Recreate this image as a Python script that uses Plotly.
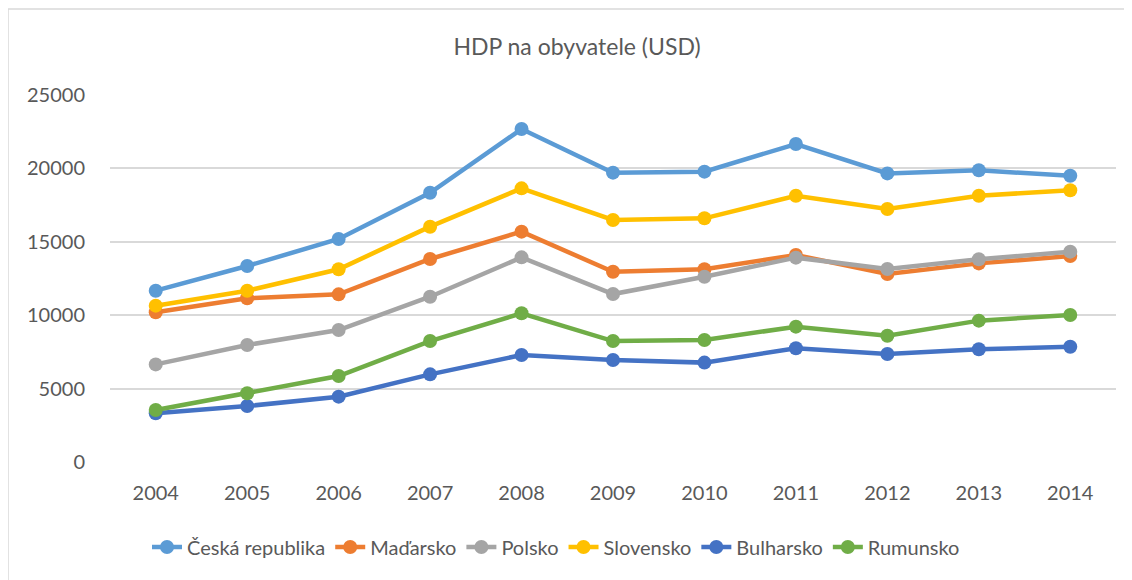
import plotly.graph_objects as go

years = ["2004", "2005", "2006", "2007", "2008", "2009", "2010", "2011", "2012", "2013", "2014"]
ceska = [11670, 13350, 15190, 18340, 22680, 19710, 19780, 21660, 19660, 19870, 19500]
madarsko = [10200, 11150, 11420, 13830, 15690, 12960, 13130, 14100, 12810, 13530, 14030]
polsko = [6650, 7970, 8990, 11260, 13940, 11440, 12620, 13920, 13150, 13810, 14330]
slovensko = [10650, 11670, 13130, 16030, 18640, 16490, 16600, 18140, 17230, 18140, 18510]
bulharsko = [3320, 3810, 4450, 5970, 7290, 6950, 6770, 7750, 7360, 7680, 7850]
rumunsko = [3540, 4680, 5860, 8240, 10130, 8240, 8310, 9220, 8600, 9630, 10010]
y_ticks = [0, 5000, 10000, 15000, 20000, 25000]
y_labels = [str(v) for v in y_ticks]

series = [
    ("Česká republika", ceska, "#5B9BD5"),
    ("Maďarsko", madarsko, "#ED7D31"),
    ("Polsko", polsko, "#A5A5A5"),
    ("Slovensko", slovensko, "#FFC000"),
    ("Bulharsko", bulharsko, "#4472C4"),
    ("Rumunsko", rumunsko, "#70AD47"),
]

FONT = "Lato, Open Sans, sans-serif"
TXT = "#595959"
fig = go.Figure()
for name, vals, col in series:
    fig.add_trace(go.Scatter(
        x=years, y=vals, name=name, mode="lines+markers",
        line=dict(color=col, width=4.5),
        marker=dict(color=col, size=14),
    ))

# page has an 8px body margin; work in target-image coordinates and shift
OFF = 8
W, H = 1132 - OFF, 580 - OFF
L, R, T, B = 110 - OFF, 16, 95 - OFF, 118
pw, ph = W - L - R, H - T - B


def px(x):
    return (x - OFF - L) / pw


def py(y):
    return (H - B - (y - OFF)) / ph


fig.update_layout(
    width=W, height=H,
    margin=dict(l=L, r=R, t=T, b=B, autoexpand=False),
    paper_bgcolor="white", plot_bgcolor="white",
    font=dict(family=FONT, size=20, color=TXT),
    title=dict(text="HDP na obyvatele (USD)", x=(577 - OFF) / W, xanchor="center",
               y=1 - (47 - OFF) / H, yanchor="middle", xref="container", yref="container",
               font=dict(size=23, color=TXT)),
    xaxis=dict(type="category", range=[-0.5, len(years) - 0.5], showgrid=False,
               zeroline=False, showline=False, ticks="", ticklabelstandoff=17,
               automargin=False, tickfont=dict(size=20, color=TXT)),
    yaxis=dict(range=[0, 25000], tickvals=y_ticks, ticktext=y_labels, showgrid=True,
               gridcolor="#D9D9D9", gridwidth=1.5, zeroline=False, showline=False,
               ticks="", ticklabelstandoff=24, automargin=False,
               tickfont=dict(size=20, color=TXT)),
    legend=dict(orientation="h", x=px(556), xanchor="center", y=py(547), yanchor="middle",
                font=dict(size=20, color=TXT), tracegroupgap=0,
                bgcolor="rgba(0,0,0,0)"),
    showlegend=True,
    shapes=[
        dict(type="line", xref="paper", yref="paper", x0=px(8), x1=px(1132), y0=py(9), y1=py(9),
             line=dict(color="#D9D9D9", width=1.5)),
        dict(type="line", xref="paper", yref="paper", x0=px(8), x1=px(8), y0=py(9), y1=py(580),
             line=dict(color="#D9D9D9", width=1.5)),
    ],
)

fig.write_html("out.html")
